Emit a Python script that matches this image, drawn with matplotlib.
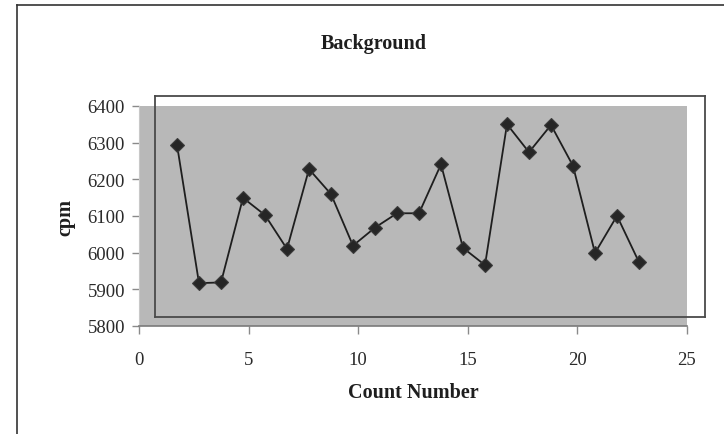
import matplotlib.pyplot as plt
from matplotlib.lines import Line2D

# data
count_number = list(range(1, 23))
cpm = [6268, 5892, 5894, 6124, 6077, 5985, 6202, 6134, 5994, 6043, 6082,
       6082, 6215, 5988, 5941, 6324, 6248, 6322, 6211, 5974, 6075, 5949]
x_ticks = [0, 5, 10, 15, 20, 25]
y_ticks = [5800, 5900, 6000, 6100, 6200, 6300, 6400]

W, H = 724, 435
fig = plt.figure(figsize=(W / 100, H / 100), dpi=100)
fig.patch.set_facecolor('white')
plt.rcParams['font.family'] = ['Liberation Serif', 'DejaVu Serif']


def box(left, top, right, bottom):
    # pixel box -> figure fraction rect
    return [left / W, (H - bottom) / H, (right - left) / W, (bottom - top) / H]


# gray plot area with the axes and ticks
ax = fig.add_axes(box(139, 107, 687, 327))
ax.set_facecolor('#b8b8b8')
ax.set_xlim(0, 25)
ax.set_ylim(5800, 6400)
ax.set_xticks(x_ticks)
ax.set_yticks(y_ticks)
for s in ['top', 'right']:
    ax.spines[s].set_visible(False)
ax.spines['left'].set_color('#c8c8c8')
ax.spines['bottom'].set_color('#7a7a7a')
ax.spines['bottom'].set_linewidth(1.2)
ax.tick_params(axis='x', length=6, width=1, color='#8a8a8a', pad=12,
               labelsize=13.5, labelcolor='#2a2a2a')
ax.tick_params(axis='y', length=5, width=1, color='#8a8a8a', pad=5,
               labelsize=13.5, labelcolor='#2a2a2a')

# plot frame + data layer (shifted in the scan)
ax2 = fig.add_axes(box(155, 97.3, 705, 318))
ax2.patch.set_alpha(0)
ax2.set_xlim(0, 25)
ax2.set_ylim(5800, 6400)
ax2.set_xticks([])
ax2.set_yticks([])
for s in ax2.spines.values():
    s.set_color('#4a4a4a')
    s.set_linewidth(1.3)
ax2.plot(count_number, cpm, color='#1e1e1e', lw=1.3, marker='D',
         markersize=7, markerfacecolor='#262626', markeredgecolor='#3a3a3a',
         markeredgewidth=0.8)

fig.text(373.5 / W, (H - 44) / H, 'Background', ha='center', va='center',
         fontsize=14.5, fontweight='bold', color='#1e1e1e')
fig.text(413 / W, (H - 393) / H, 'Count Number', ha='center', va='center',
         fontsize=14.5, fontweight='bold', color='#1e1e1e')
fig.text(65 / W, (H - 217) / H, 'cpm', ha='center', va='center', rotation=90,
         fontsize=14.5, fontweight='bold', color='#1e1e1e')

# outer chart border
fig.lines.append(Line2D([17 / W, 17 / W], [0, (H - 6) / H], transform=fig.transFigure,
                        color='#333333', lw=1.2))
fig.lines.append(Line2D([17 / W, 1], [(H - 6) / H, (H - 6) / H], transform=fig.transFigure,
                        color='#333333', lw=1.2))

fig.savefig('out.png', dpi=100)
